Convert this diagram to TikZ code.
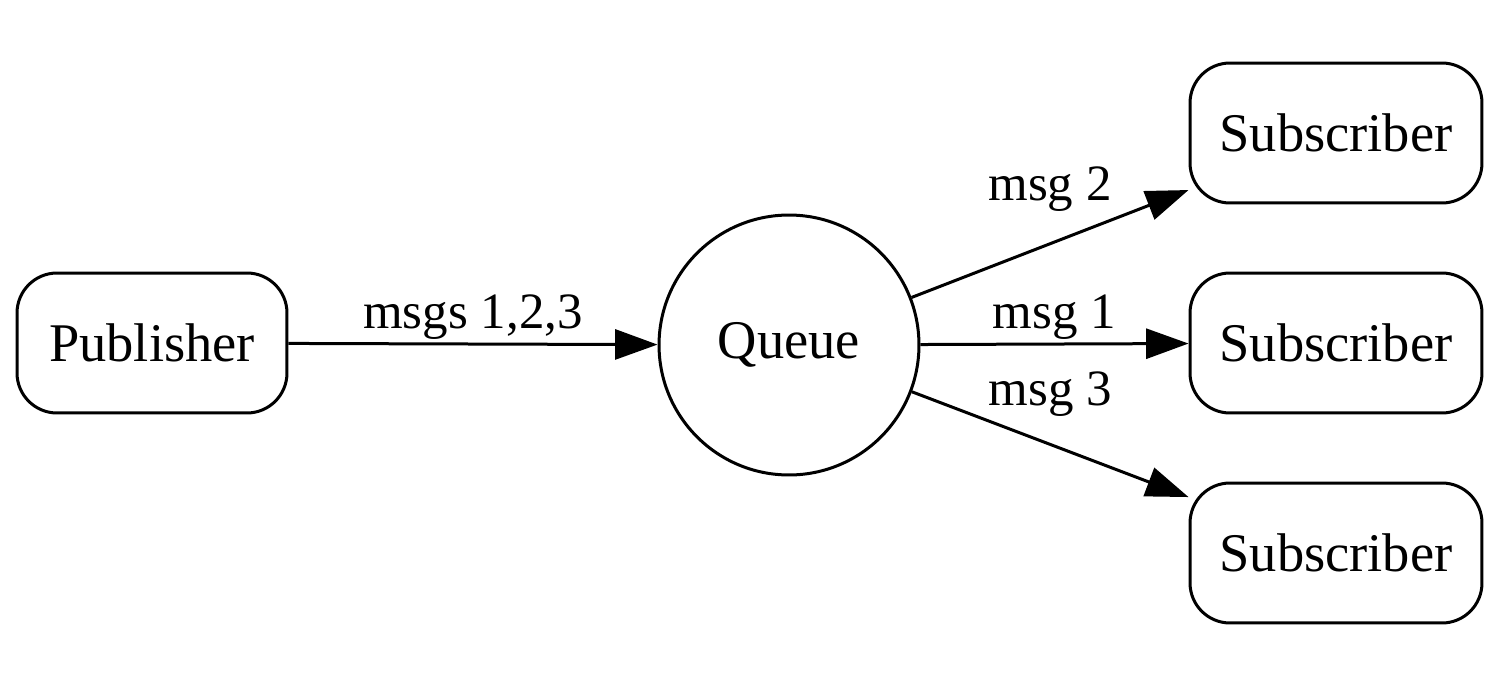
\documentclass[tikz,border=0pt]{standalone}
\usepackage{fontspec}
\setmainfont{Liberation Serif}
\usetikzlibrary{positioning,arrows.meta}
\begin{document}
\begin{tikzpicture}[
    x=0.02cm, y=-0.02cm,
    box/.style={rectangle, rounded corners=0.8cm, draw=black, line width=0.06cm, minimum height=2.8cm, font=\fontsize{31}{37}\selectfont},
    queuenode/.style={circle, draw=black, line width=0.06cm, minimum size=5.2cm, inner sep=0pt, font=\fontsize{31}{37}\selectfont},
    lbl/.style={font=\fontsize{29}{35}\selectfont, inner sep=2pt},
    arrow/.style={line width=0.06cm, -{Triangle[length=0.85cm, width=0.6cm]}}
]
\useasboundingbox (0,0) rectangle (1510,690);

% Publisher and queue
\node (pub) [box, minimum width=5.4cm] at (152,343) {Publisher};
\node (queue) [queuenode] at (789,345) {Queue};

% Subscribers
\node (sub2) [box, minimum width=5.84cm] at (1336,133) {Subscriber};
\node (sub1) [box, minimum width=5.84cm] at (1336,343) {Subscriber};
\node (sub3) [box, minimum width=5.84cm] at (1336,553) {Subscriber};

% Connectors
\draw[arrow] (pub) -- node[lbl, above] {msgs 1,2,3} (queue);
\draw[arrow] (queue) -- node[lbl, above=0.55cm] {msg 2} (sub2);
\draw[arrow] (queue) -- node[lbl, above] {msg 1} (sub1);
\draw[arrow] (queue) -- node[lbl, above=0.45cm] {msg 3} (sub3);

\end{tikzpicture}
\end{document}
